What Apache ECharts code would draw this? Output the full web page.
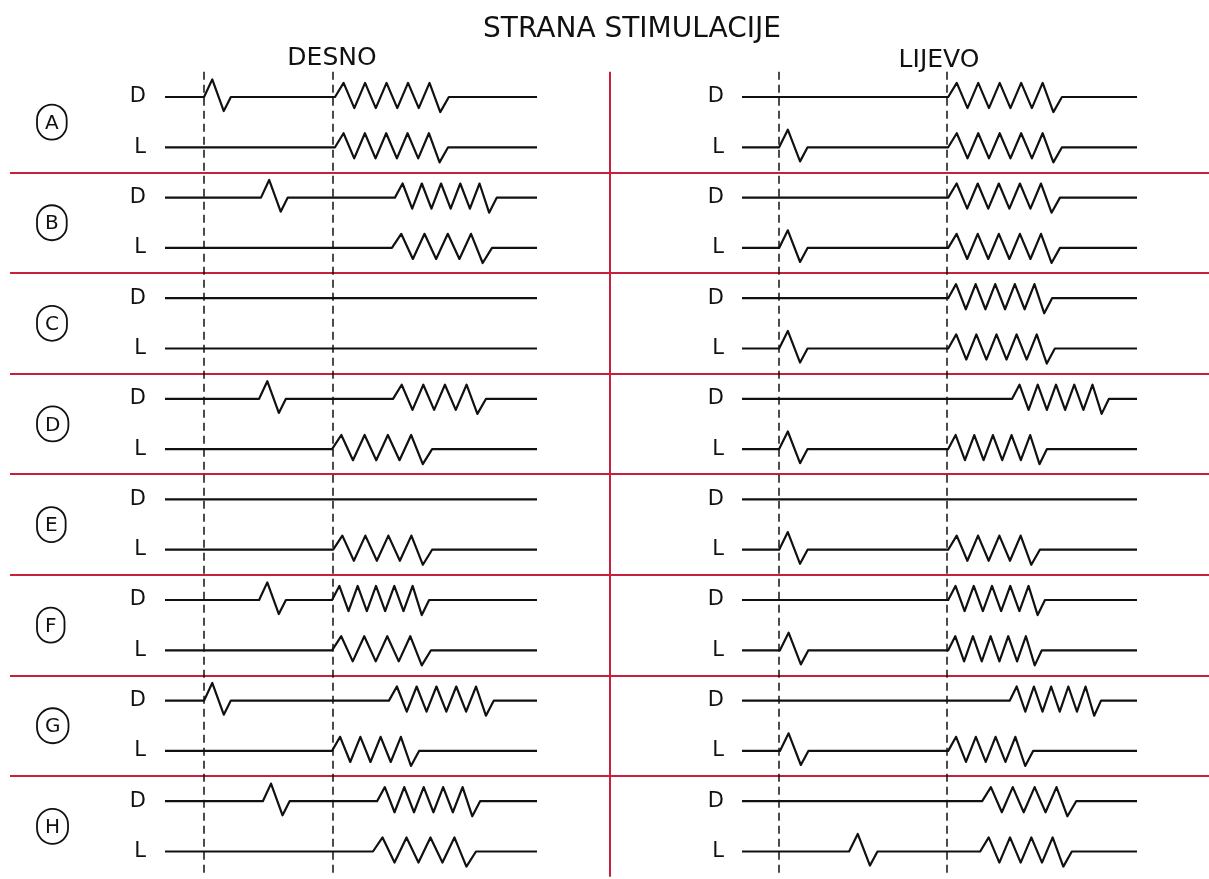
<!DOCTYPE html>
<html lang="hr">
<head>
<meta charset="UTF-8">
<title>Strana stimulacije</title>
<script src="https://cdn.jsdelivr.net/npm/echarts@6/dist/echarts.min.js"></script>
<style>
  html, body { margin: 0; padding: 0; background: #fff; }
</style>
</head>
<body>
<div id="main" style="width:1209px;height:879px;"></div>
<script type="text/javascript">
// rows (A-H), each with a D and an L trace -> 16 traces, top to bottom
const rows = ['A', 'B', 'C', 'D', 'E', 'F', 'G', 'H'];
const traceLabels = ['D', 'L', 'D', 'L', 'D', 'L', 'D', 'L', 'D', 'L', 'D', 'L', 'D', 'L', 'D', 'L'];

// time runs 0..100 along each trace; stimulus marks (dashed lines)
const stimDesno = [10.5, 45.2];
const stimLijevo = [9.4, 51.9];

// DESNO panel: single spike onset, burst start / end, number of burst peaks (null / 0 = none)
const desnoSpike = [10.5, null, 25.8, null, null, null, 25.3, null, null, null, 25.3, null, 10.5, null, 26.3, null];
const desnoBurstStart = [45.7, 45.7, 61.8, 61.0, null, null, 61.3, 44.9, null, 45.2, 44.9, 44.9, 60.2, 44.9, 57.0, 55.9];
const desnoBurstEnd = [76.3, 76.1, 89.2, 87.9, null, null, 86.3, 71.8, null, 71.8, 71.0, 71.5, 88.4, 68.3, 84.7, 83.6];
const desnoBurstPeaks = [5, 5, 5, 4, 0, 0, 4, 4, 0, 4, 5, 4, 5, 4, 5, 4];

// LIJEVO panel
const lijevoSpike = [null, 9.4, null, 9.4, null, 9.4, null, 9.4, null, 9.4, null, 9.6, null, 9.6, null, 27.1];
const lijevoBurstStart = [52.2, 52.2, 52.2, 52.2, 52.2, 52.2, 68.4, 52.2, null, 52.2, 52.2, 52.2, 67.8, 52.2, 60.8, 60.3];
const lijevoBurstEnd = [81.0, 81.0, 80.5, 80.5, 78.5, 79.2, 92.9, 77.2, null, 75.4, 76.7, 75.9, 90.9, 73.7, 84.6, 83.5];
const lijevoBurstPeaks = [5, 5, 5, 5, 5, 5, 5, 5, 0, 4, 5, 5, 5, 4, 4, 4];

const INK = '#111';
const RED = '#c81f3c';

// build one trace: flat baseline with a spike and / or a zigzag burst
function trace(i, spike, bStart, bEnd, peaks) {
  const pts = [[0, i]];
  if (spike != null) {
    pts.push([spike, i], [spike + 2.2, i - 0.35], [spike + 5.3, i + 0.28], [spike + 7.2, i]);
  }
  if (bStart != null && peaks > 0) {
    const p = (bEnd - bStart) / (peaks + 0.3);
    pts.push([bStart, i]);
    for (let j = 0; j < peaks; j++) {
      pts.push([bStart + (0.4 + j) * p, i - 0.28]);
      pts.push([bStart + (0.9 + j) * p, i + (j === peaks - 1 ? 0.3 : 0.22)]);
    }
    pts.push([bEnd, i]);
  }
  pts.push([100, i]);
  return pts;
}

function panelSeries(grid, stim, spikes, bStarts, bEnds, bPeaks) {
  return traceLabels.map((lab, i) => {
    const s = {
      type: 'line',
      xAxisIndex: grid,
      yAxisIndex: grid === 1 ? 1 : 3,
      data: trace(i, spikes[i], bStarts[i], bEnds[i], bPeaks[i]),
      showSymbol: false,
      symbol: 'none',
      lineStyle: { color: INK, width: 2.2, join: 'round' },
      silent: true,
      animation: false
    };
    if (i === 0) {
      s.markLine = {
        silent: true,
        symbol: ['none', 'none'],
        label: { show: false },
        lineStyle: { color: '#111', width: 1.5, type: [8, 5] },
        data: stim.map(v => ({ xAxis: v }))
      };
    }
    return s;
  });
}

const gridTop = 71.85, gridBottom = 2.35;

const hiddenX = { type: 'value', min: 0, max: 100, show: false };

let options = {
  backgroundColor: '#fff',
  animation: false,
  grid: [
    { left: 10, right: 0, top: gridTop, bottom: gridBottom },      // frame (red dividers, row letters)
    { left: 165, right: 672, top: gridTop, bottom: gridBottom },   // DESNO
    { left: 742, right: 72, top: gridTop, bottom: gridBottom }     // LIJEVO
  ],
  xAxis: [
    {
      gridIndex: 0, type: 'value', min: 0, max: 2, interval: 1,
      axisLine: { show: false }, axisTick: { show: false }, axisLabel: { show: false },
      splitLine: { show: true, showMinLine: false, showMaxLine: false, lineStyle: { color: RED, width: 2 } }
    },
    Object.assign({ gridIndex: 1 }, hiddenX),
    Object.assign({ gridIndex: 2 }, hiddenX)
  ],
  yAxis: [
    {
      gridIndex: 0, type: 'category', data: rows, inverse: true, position: 'left',
      axisLine: { show: false }, axisTick: { show: false },
      axisLabel: {
        inside: true, margin: 27, interval: 0,
        formatter: v => '{c|' + v + '}',
        rich: {
          c: {
            fontFamily: 'DejaVu Sans', fontSize: 20, color: INK,
            lineHeight: 22, padding: [9, 8, 6, 8],
            borderColor: INK, borderWidth: 1.8, borderRadius: 17
          }
        }
      },
      splitLine: { show: true, interval: 0, showMinLine: false, showMaxLine: false, lineStyle: { color: RED, width: 2 } }
    },
    { gridIndex: 1, type: 'value', min: -0.5, max: 15.5, inverse: true, position: 'right', show: false },
    {
      gridIndex: 1, type: 'category', data: traceLabels, inverse: true, position: 'left',
      axisLine: { show: false }, axisTick: { show: false }, splitLine: { show: false },
      axisLabel: { margin: 19, interval: 0, fontFamily: 'DejaVu Sans', fontSize: 21, fontWeight: 500, color: INK }
    },
    { gridIndex: 2, type: 'value', min: -0.5, max: 15.5, inverse: true, position: 'right', show: false },
    {
      gridIndex: 2, type: 'category', data: traceLabels, inverse: true, position: 'left',
      axisLine: { show: false }, axisTick: { show: false }, splitLine: { show: false },
      axisLabel: { margin: 18, interval: 0, fontFamily: 'DejaVu Sans', fontSize: 21, fontWeight: 500, color: INK }
    }
  ],
  graphic: [
    { type: 'text', x: 632, y: 30, style: { text: 'STRANA STIMULACIJE', align: 'center', verticalAlign: 'middle', font: '28px "DejaVu Sans"', fill: INK } },
    { type: 'text', x: 332, y: 58, style: { text: 'DESNO', align: 'center', verticalAlign: 'middle', font: '25px "DejaVu Sans"', fill: INK } },
    { type: 'text', x: 939, y: 60, style: { text: 'LIJEVO', align: 'center', verticalAlign: 'middle', font: '25px "DejaVu Sans"', fill: INK } }
  ],
  series: []
};

options.series = options.series.concat(
  panelSeries(1, stimDesno, desnoSpike, desnoBurstStart, desnoBurstEnd, desnoBurstPeaks),
  panelSeries(2, stimLijevo, lijevoSpike, lijevoBurstStart, lijevoBurstEnd, lijevoBurstPeaks)
);

let myChart = echarts.init(document.getElementById('main'));
myChart.setOption(options);
</script>
</body>
</html>
